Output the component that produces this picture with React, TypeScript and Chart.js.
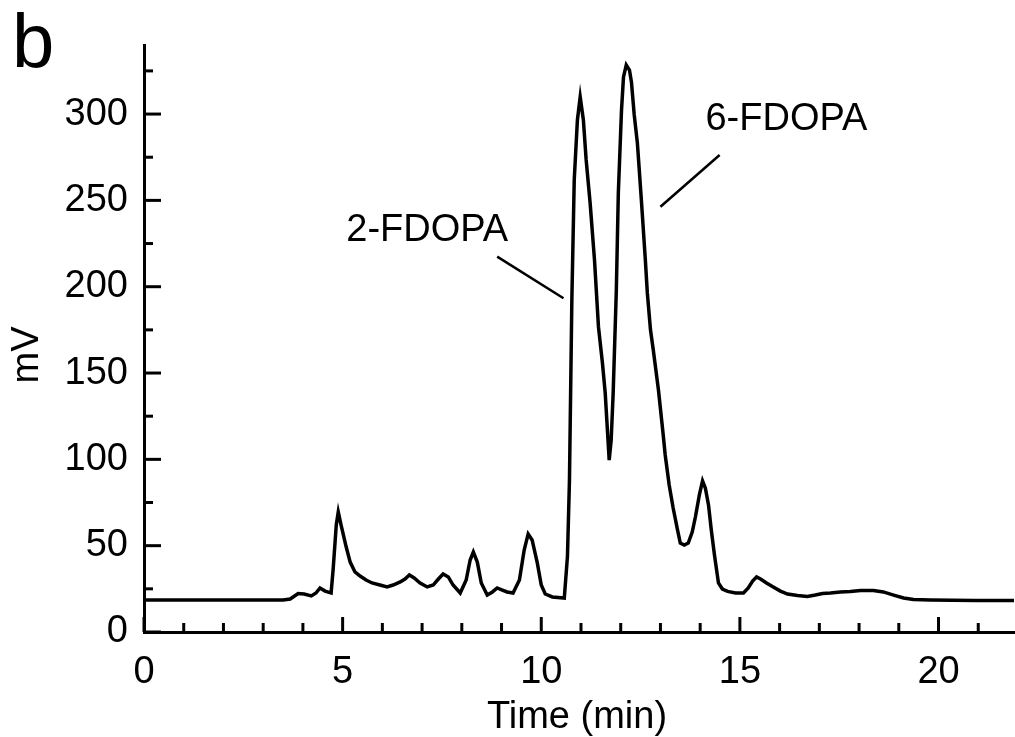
import React, { useEffect, useRef } from "react";
import { Chart, registerables } from "chart.js";

Chart.register(...registerables);

// Retention time (min)
const timeMin = [
  0, 3.5, 3.68, 3.88, 4.03, 4.21, 4.33, 4.43, 4.56, 4.71, 4.76, 4.84, 4.89, 4.96, 5.09, 5.19,
  5.31, 5.44, 5.59, 5.74, 5.94, 6.12, 6.27, 6.45, 6.57, 6.68, 6.8, 6.95, 7.13, 7.28, 7.41, 7.53,
  7.66, 7.78, 7.96, 8.11, 8.21, 8.29, 8.39, 8.49, 8.64, 8.77, 8.89, 9.02, 9.14, 9.29, 9.45, 9.57,
  9.67, 9.77, 9.9, 10.0, 10.1, 10.28, 10.58, 10.66, 10.71, 10.77, 10.83, 10.91, 10.98, 11.06, 11.13,
  11.23, 11.34, 11.44, 11.54, 11.61, 11.71, 11.76, 11.81, 11.89, 11.94, 12.02, 12.07, 12.14, 12.22,
  12.27, 12.34, 12.42, 12.52, 12.62, 12.67, 12.75, 12.82, 12.95, 13.07, 13.12, 13.22, 13.32, 13.43,
  13.5, 13.6, 13.7, 13.8, 13.88, 13.98, 14.06, 14.13, 14.21, 14.28, 14.36, 14.46, 14.56, 14.69,
  14.89, 15.09, 15.21, 15.32, 15.42, 15.52, 15.67, 15.84, 16.02, 16.2, 16.45, 16.7, 16.9, 17.08,
  17.28, 17.53, 17.78, 18.04, 18.36, 18.61, 18.87, 19.12, 19.37, 19.8, 20.93, 21.9,
];

// Detector signal (mV)
const signalMV = [
  18.5, 18.5, 19.1, 22.3, 22.0, 20.9, 22.6, 25.5, 23.7, 22.6, 35.9, 62.0, 69.5, 62.0, 49.2, 40.5,
  34.8, 32.4, 30.1, 28.4, 27.2, 26.1, 27.2, 29.0, 30.7, 33.0, 31.3, 28.4, 26.1, 27.2, 30.7, 33.6,
  31.9, 27.2, 22.6, 30.1, 41.7, 46.3, 40.5, 28.4, 21.4, 23.2, 25.5, 24.3, 23.2, 22.6, 30.1, 47.5,
  56.8, 53.3, 40.0, 27.2, 22.0, 20.3, 19.7, 44.0, 88.0, 192.3, 261.8, 296.6, 309.9, 296.6, 273.4,
  248.5, 215.5, 176.7, 155.8, 138.4, 99.6, 111.2, 138.4, 198.1, 254.3, 302.3, 321.5, 328.4, 325.5,
  318.6, 299.5, 283.2, 250.2, 215.5, 196.4, 174.9, 163.3, 140.2, 114.1, 102.5, 85.1, 71.8, 59.1,
  51.5, 50.4, 51.5, 57.9, 66.6, 79.4, 87.5, 83.4, 73.6, 59.1, 44.6, 28.4, 24.9, 23.5,
  22.6, 22.6, 25.5, 29.5, 31.9, 30.7, 28.4, 26.1, 23.7, 22.0, 21.1, 20.6, 21.4, 22.3,
  22.6, 23.2, 23.5, 24.0, 24.0, 23.2, 21.4, 19.7, 18.8, 18.5, 18.2, 18.2,
];

const xMajorTicks = [0, 5, 10, 15, 20];
const yMajorTicks = [0, 50, 100, 150, 200, 250, 300];
const X_MIN = 0;
const X_MAX = 21.9;
const Y_MIN = 0;
const Y_MAX = 340;

// Peak annotations: label text, label anchor, leader line (data units)
const peakLabels = ["2-FDOPA", "6-FDOPA"];
const peakLabelAt = [
  [7.13, 232.8],
  [16.17, 296.6],
];
const peakLeaderFrom = [
  [8.89, 217.4],
  [13.0, 246.3],
];
const peakLeaderTo = [
  [10.56, 193.3],
  [14.49, 276.3],
];

const FONT = "'Liberation Sans', Arial, Helvetica, sans-serif";

const decorPlugin = {
  id: "decor",
  afterDraw(chart: any) {
    const { ctx, chartArea } = chart;
    const xs = chart.scales.x;
    const ys = chart.scales.y;
    ctx.save();
    ctx.strokeStyle = "#000";
    ctx.fillStyle = "#000";
    ctx.lineCap = "butt";
    ctx.lineWidth = 3;
    // inward tick marks
    xs.ticks.forEach((t: any) => {
      const px = xs.getPixelForValue(t.value);
      const len = xMajorTicks.includes(t.value) ? 15 : 9;
      ctx.beginPath();
      ctx.moveTo(px, chartArea.bottom);
      ctx.lineTo(px, chartArea.bottom - len);
      ctx.stroke();
    });
    ys.ticks.forEach((t: any) => {
      const py = ys.getPixelForValue(t.value);
      const len = yMajorTicks.includes(t.value) ? 17 : 9;
      ctx.beginPath();
      ctx.moveTo(chartArea.left, py);
      ctx.lineTo(chartArea.left + len, py);
      ctx.stroke();
    });
    // leader lines + labels
    ctx.lineWidth = 2.5;
    peakLabels.forEach((label, i) => {
      ctx.beginPath();
      ctx.moveTo(xs.getPixelForValue(peakLeaderFrom[i][0]), ys.getPixelForValue(peakLeaderFrom[i][1]));
      ctx.lineTo(xs.getPixelForValue(peakLeaderTo[i][0]), ys.getPixelForValue(peakLeaderTo[i][1]));
      ctx.stroke();
      ctx.font = `38px ${FONT}`;
      ctx.textAlign = "center";
      ctx.textBaseline = "middle";
      ctx.fillText(label, xs.getPixelForValue(peakLabelAt[i][0]), ys.getPixelForValue(peakLabelAt[i][1]));
    });
    // axis titles
    ctx.font = `38px ${FONT}`;
    ctx.textAlign = "center";
    ctx.textBaseline = "middle";
    ctx.fillText("Time (min)", (chartArea.left + chartArea.right) / 2 - 2, chartArea.bottom + 86);
    ctx.save();
    ctx.translate(28, 355);
    ctx.rotate(-Math.PI / 2);
    ctx.fillText("mV", 0, 0);
    ctx.restore();
    // panel letter
    ctx.font = `76px ${FONT}`;
    ctx.textAlign = "left";
    ctx.textBaseline = "alphabetic";
    ctx.fillText("b", 12, 67);
    ctx.restore();
  },
};

export default function App() {
  const ref = useRef<HTMLCanvasElement | null>(null);
  useEffect(() => {
    if (!ref.current) return;
    const chart = new Chart(ref.current, {
      type: "line",
      data: {
        datasets: [
          {
            data: timeMin.map((t, i) => ({ x: t, y: signalMV[i] })),
            borderColor: "#000",
            borderWidth: 3.5,
            pointRadius: 0,
            tension: 0,
            fill: false,
          },
        ],
      },
      options: {
        animation: false,
        responsive: false,
        devicePixelRatio: 1,
        layout: { padding: { top: 45, right: 1, left: 0, bottom: 0 } },
        plugins: { legend: { display: false }, tooltip: { enabled: false } },
        scales: {
          x: {
            type: "linear",
            min: X_MIN,
            max: X_MAX,
            grid: { display: false, drawTicks: false },
            border: { display: true, color: "#000", width: 3 },
            ticks: {
              stepSize: 1,
              includeBounds: false,
              autoSkip: false,
              maxRotation: 0,
              padding: 18,
              color: "#000",
              font: { family: FONT, size: 38 },
              callback: (v: any) => (xMajorTicks.includes(Number(v)) ? String(v) : ""),
            },
            afterFit: (s: any) => {
              s.height = 105;
            },
          },
          y: {
            type: "linear",
            min: Y_MIN,
            max: Y_MAX,
            grid: { display: false, drawTicks: false },
            border: { display: true, color: "#000", width: 3 },
            ticks: {
              stepSize: 25,
              includeBounds: false,
              autoSkip: false,
              padding: 16,
              color: "#000",
              font: { family: FONT, size: 38 },
              callback: (v: any) => (yMajorTicks.includes(Number(v)) ? String(v) : ""),
            },
            afterFit: (s: any) => {
              s.width = 144;
            },
          },
        },
      },
      plugins: [decorPlugin],
    });
    return () => chart.destroy();
  }, []);
  return (
    <div style={{ position: "absolute", left: 0, top: 0, width: 1015, height: 737, background: "#fff" }}>
      <canvas ref={ref} width={1015} height={737} style={{ width: 1015, height: 737 }} />
    </div>
  );
}
